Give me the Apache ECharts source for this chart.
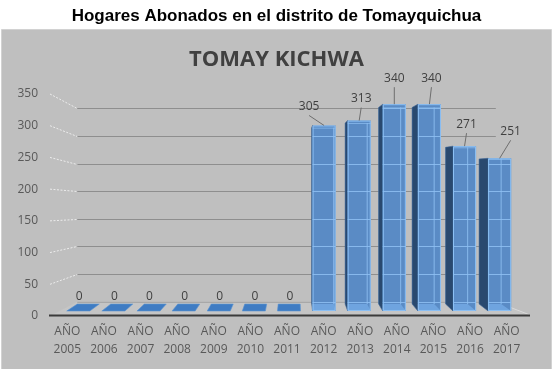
<!DOCTYPE html>
<html><head><meta charset="utf-8">
<script src="https://cdn.jsdelivr.net/npm/echarts@6/dist/echarts.min.js"></script>
<style>html,body{margin:0;padding:0;background:#fff}#c{width:553px;height:369px}</style>
</head><body><div id="c"></div>
<script>
// ---- data ----
const categoryPrefix = 'AÑO';
const categories = ['2005','2006','2007','2008','2009','2010','2011','2012','2013','2014','2015','2016','2017'];
const households = [0,0,0,0,0,0,0,305,313,340,340,271,251];
const yTicks = [0,50,100,150,200,250,300,350];
const chartTitle = 'Hogares Abonados en el distrito de Tomayquichua';
const innerTitle = 'TOMAY KICHWA';
// label nudges (layout only)
const labelDx = [1,1,1,1,1,1,1,-15,2,0,2,2,11];
const labelDy = [-14,-14,-14,-14,-14,-14,-14,-19,-22,-26,-26,-22,-27];

// ---- perspective parameters (layout) ----
const VB = [263,205], SB = 0.872;     // back wall
const V1 = [335,194], S1 = 0.959;     // bar front plane
const KX = 0.0463, XD = 294, KY = 0.049, YD = 170; // bar depth

const chart = echarts.init(document.getElementById('c'), null, {renderer:'canvas'});

function P(x,y){ return [VB[0]+SB*(x-VB[0]), VB[1]+SB*(y-VB[1])]; }

function renderWall(params, api){
  const v = api.value(1);
  const cs = params.coordSys;
  const y = api.coord([0, v])[1];
  const gl = cs.x, gr = cs.x + cs.width;
  const ch = [];
  if (v === yTicks[0]) {
    const fl=[gl+1,y], fr=[gr+5,y], bl=P(gl+1,y), br=P(gr+5,y);
    ch.push({type:'polygon', shape:{points:[fl,fr,br,bl]}, style:{fill:'#c5c5c5', stroke:null}});
    ch.push({type:'line', shape:{x1:br[0],y1:br[1],x2:fr[0],y2:fr[1]-1}, style:{stroke:'#dadada', lineWidth:1}});
    ch.push({type:'line', shape:{x1:bl[0],y1:bl[1]+0.5,x2:br[0],y2:br[1]+0.5}, style:{stroke:'#a0a0a0', lineWidth:1}});
    ch.push({type:'line', shape:{x1:gl,y1:y-0.5,x2:gr+5,y2:y-0.5}, style:{stroke:'#3b3b3b', lineWidth:2}});
  } else {
    const a = P(gl+1,y), b = P(gr+5,y);
    ch.push({type:'line', shape:{x1:a[0],y1:Math.round(a[1])+0.5,x2:b[0],y2:Math.round(b[1])+0.5}, style:{stroke:'#8e8e8e', lineWidth:1}});
    ch.push({type:'line', shape:{x1:gl+1,y1:y,x2:a[0],y2:Math.round(a[1])+0.5}, style:{stroke:'#ececec', lineWidth:1, lineDash:[2,1.5]}});
  }
  return {type:'group', children:ch};
}

function renderBar(params, api){
  const i = api.value(0), v = api.value(1);
  const top = api.coord([i, v]), base = api.coord([i, 0]);
  const cw = api.size([1,0])[0];
  const hw = cw*0.315;
  const t1 = p => [V1[0]+S1*(p[0]-V1[0]), V1[1]+S1*(p[1]-V1[1])];
  const ft = t1(top), fb = t1(base);
  const cx = ft[0], xl = cx-hw, xr = cx+hw, yt = ft[1], yb = fb[1];
  const D = (x,y) => [x+KX*(XD-x), y+KY*(YD-y)];
  const FTL=[xl,yt], FTR=[xr,yt], FBL=[xl,yb], FBR=[xr,yb];
  const BTL=D(xl,yt), BTR=D(xr,yt), BBL=D(xl,yb), BBR=D(xr,yb);
  const ch = [];
  const h = yb - yt;
  if (h > 0.5) {
    ch.push({type:'polygon', shape:{points:[BTL,BTR,BBR,BBL]}, style:{fill:'#4f80b8'}});
    if (BTL[0] < xl) ch.push({type:'polygon', shape:{points:[FTL,BTL,BBL,FBL]}, style:{fill:'#29496f', stroke:'#3c6595', lineWidth:0.6}});
    if (BTR[0] > xr) ch.push({type:'polygon', shape:{points:[FTR,BTR,BBR,FBR]}, style:{fill:'#3b6897'}});
    ch.push({type:'rect', shape:{x:xl,y:yt,width:xr-xl,height:h}, style:{fill:'#5a8bc5', stroke:null}});
    // bottom face seen through
    ch.push({type:'polygon', shape:{points:[FBL,FBR,[Math.min(BBR[0],xr),BBR[1]],[Math.max(BBL[0],xl),BBL[1]]]}, style:{fill:'#7db6f0', opacity:0.6}});
    // back gridlines seen through the bar
    yTicks.forEach(t => {
      const by = P(0, api.coord([i, t])[1])[1];
      const yy = Math.round(by)+0.5;
      if (yy > yt+2 && yy < yb-1) ch.push({type:'line', shape:{x1:xl,y1:yy,x2:xr,y2:yy}, style:{stroke:'#8fc0f2', lineWidth:1, opacity:0.85}});
    });
    // back edges seen through
    const bx = Math.max(Math.min(BTR[0], xr-1), xl+1);
    ch.push({type:'line', shape:{x1:bx,y1:BTR[1],x2:bx,y2:BBR[1]}, style:{stroke:'#8fc0f2', lineWidth:1, opacity:0.85}});
    ch.push({type:'line', shape:{x1:xl,y1:BTR[1]+0.5,x2:xr,y2:BTR[1]+0.5}, style:{stroke:'#8fc0f2', lineWidth:1, opacity:0.7}});
    ch.push({type:'rect', shape:{x:xl+0.5,y:yt+0.5,width:xr-xl-1,height:h-1}, style:{fill:null, stroke:'#8cc0f4', lineWidth:1}});
  } else {
    ch.push({type:'polygon', shape:{points:[FBL,FBR,BBR,BBL]}, style:{fill:'#3f7cc3', stroke:'#5b93d2', lineWidth:0.6}});
  }
  const lx = cx + labelDx[i], ly = yt + labelDy[i];
  if (v > 0) ch.push({type:'line', shape:{x1:lx,y1:ly+9,x2:cx,y2:yt}, style:{stroke:'#6e6e6e', lineWidth:1}});
  ch.push({type:'text', x:lx, y:ly, style:{text:String(v), fill:'#404040', font:'12px "Open Sans"', align:'center', verticalAlign:'middle'}});
  return {type:'group', children:ch};
}

const option = {
  backgroundColor:'#ffffff',
  animation:false,
  graphic:[{type:'rect', z:-10, shape:{x:1.5,y:29.5,width:550,height:345}, style:{fill:'#bfbfbf', stroke:'#d2d2d2', lineWidth:1}}],
  title:[
    {text:chartTitle, left:'center', top:3, textStyle:{fontFamily:'Liberation Sans', fontWeight:'bold', fontSize:17, color:'#000'}},
    {text:innerTitle, left:'center', top:44, textStyle:{fontFamily:'Open Sans', fontWeight:'bold', fontSize:22, color:'#404040'}}
  ],
  grid:{left:49, top:94, width:476, height:222},
  xAxis:{type:'category', data:categories.map(c => categoryPrefix + '\n' + c),
    axisLine:{show:false}, axisTick:{show:false}, splitLine:{show:false},
    axisLabel:{interval:0, color:'#595959', fontFamily:'Open Sans', fontSize:12, lineHeight:18, margin:7}},
  yAxis:{type:'value', min:0, max:350, interval:50,
    axisLine:{show:false}, axisTick:{show:false}, splitLine:{show:false},
    axisLabel:{color:'#595959', fontFamily:'Open Sans', fontSize:12, margin:11}},
  series:[
    {type:'custom', renderItem:renderWall, data:yTicks.map(t => [0,t]), clip:false, z:1, silent:true},
    {type:'custom', renderItem:renderBar, data:households.map((v,i) => [i,v]), clip:false, z:2}
  ]
};
chart.setOption(option);
</script></body></html>
